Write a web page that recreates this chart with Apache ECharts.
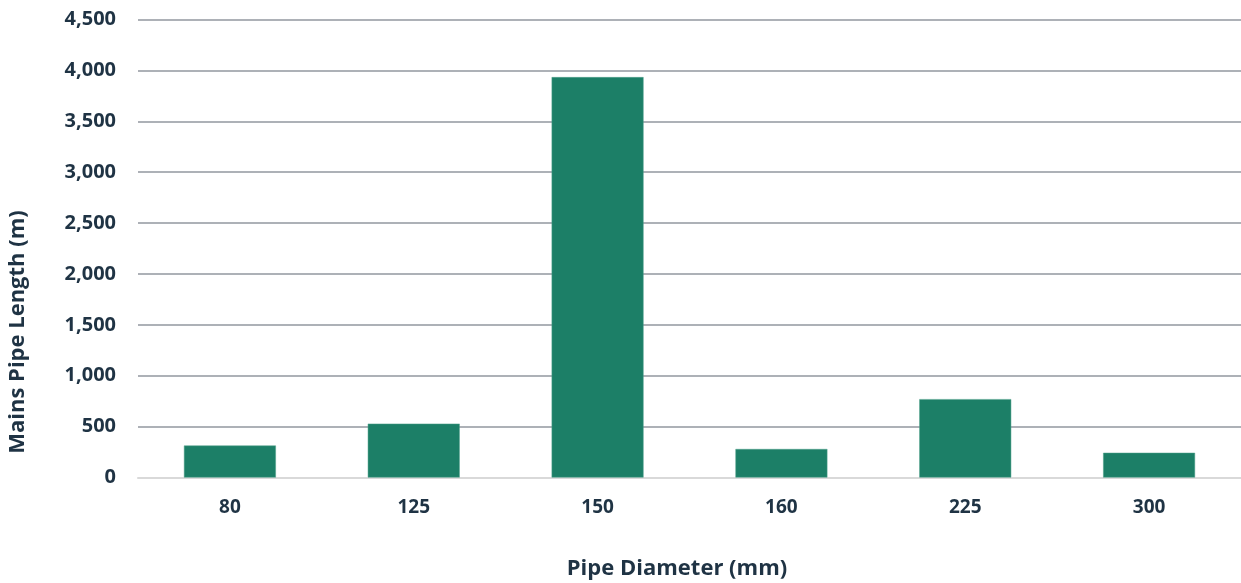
<!DOCTYPE html>
<html>
<head>
<meta charset="utf-8">
<script src="https://cdn.jsdelivr.net/npm/echarts@6/dist/echarts.min.js"></script>
<style>
html,body{margin:0;padding:0;background:#fff;overflow:hidden;}
#chart{width:1241px;height:583px;}
</style>
</head>
<body>
<div id="chart"></div>
<script>
const categories = ['80', '125', '150', '160', '225', '300'];
const lengths = [314, 529, 3934, 280, 770, 243];
const yTicks = { min: 0, max: 4500, interval: 500 };
const xTitle = 'Pipe Diameter (mm)';
const yTitle = 'Mains Pipe Length (m)';

const textColor = '#1f3344';
const font = '"Open Sans", "Noto Sans", sans-serif';

const chart = echarts.init(document.getElementById('chart'), null, { renderer: 'canvas' });
chart.setOption({
  animation: false,
  backgroundColor: '#ffffff',
  grid: { left: 138, right: 0, top: 19.5, bottom: 105.5, containLabel: false, outerBoundsMode: 'none' },
  xAxis: {
    type: 'category',
    data: categories,
    name: xTitle,
    nameLocation: 'middle',
    nameGap: 80,
    nameTextStyle: { color: textColor, fontFamily: font, fontWeight: 'bold', fontSize: 22, padding: [0, 25, 0, 0] },
    axisLine: { show: true, lineStyle: { color: '#d9d9d9', width: 2 } },
    axisTick: { show: false },
    axisLabel: { color: textColor, fontFamily: font, fontWeight: 'bold', fontSize: 19, margin: 21 }
  },
  yAxis: {
    type: 'value',
    min: yTicks.min,
    max: yTicks.max,
    interval: yTicks.interval,
    axisLine: { show: false },
    axisTick: { show: false },
    splitLine: { show: true, lineStyle: { color: '#adb1b7', width: 2 } },
    axisLabel: {
      color: textColor, fontFamily: font, fontWeight: 'bold', fontSize: 20, margin: 22,
      formatter: v => v.toLocaleString('en-US')
    }
  },
  graphic: [{
    type: 'text',
    x: 18, y: 332,
    rotation: Math.PI / 2,
    style: {
      text: yTitle,
      fill: textColor,
      font: 'bold 22px ' + font,
      textAlign: 'center',
      textVerticalAlign: 'middle'
    }
  }],
  series: [{
    type: 'bar',
    data: lengths,
    barCategoryGap: '50%',
    itemStyle: { color: '#1c7f67', borderColor: '#4fa08a', borderWidth: 0.5 }
  }]
});
</script>
</body>
</html>
